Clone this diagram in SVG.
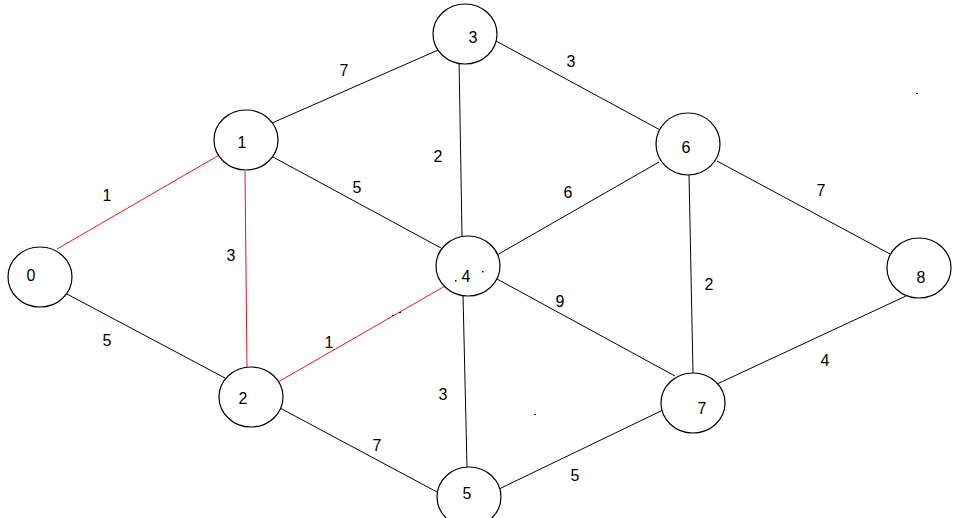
<svg xmlns="http://www.w3.org/2000/svg" width="972" height="518" viewBox="0 0 972 518">
<style>
.n ellipse{fill:#fff;stroke:#000;stroke-width:1.2}
text{font-family:"Liberation Sans","DejaVu Sans",sans-serif;font-size:16px;fill:#000;text-anchor:middle}
.e line{stroke:#000;stroke-width:1}
.e line.r{stroke:#e8141c}
</style>
<rect width="972" height="518" fill="#fff"/>
<g id="edges" class="e">
<line class="r" x1="57" y1="249" x2="221" y2="154"/>
<line x1="65" y1="293" x2="225" y2="378"/>
<line class="r" x1="245" y1="171" x2="247" y2="371"/>
<line x1="272" y1="123" x2="445" y2="47"/>
<line x1="273" y1="157" x2="441" y2="248"/>
<line class="r" x1="278" y1="382" x2="445" y2="286"/>
<line x1="280" y1="408" x2="437" y2="492"/>
<line x1="459" y1="58" x2="462" y2="236"/>
<line x1="496" y1="41" x2="662" y2="131"/>
<line x1="497" y1="255" x2="659" y2="162"/>
<line x1="463" y1="295" x2="467" y2="467"/>
<line x1="497" y1="279" x2="675" y2="376"/>
<line x1="499" y1="489" x2="663" y2="410"/>
<line x1="689" y1="175" x2="693" y2="373"/>
<line x1="717" y1="161" x2="890" y2="254"/>
<line x1="717" y1="384" x2="906" y2="296"/>
</g>
<g id="node0" class="n"><ellipse cx="40" cy="277" rx="32" ry="30"/><text x="31" y="281">0</text></g>
<g id="node1" class="n"><ellipse cx="246" cy="140" rx="32" ry="30"/><text x="242" y="148">1</text></g>
<g id="node2" class="n"><ellipse cx="251" cy="397" rx="32" ry="30"/><text x="243" y="404">2</text></g>
<g id="node3" class="n"><ellipse cx="465" cy="34" rx="32" ry="30"/><text x="473" y="43">3</text></g>
<g id="node4" class="n"><ellipse cx="468" cy="266" rx="32" ry="30"/><text x="466" y="282">4</text></g>
<g id="node5" class="n"><ellipse cx="469" cy="497" rx="32" ry="30"/><text x="467" y="499">5</text></g>
<g id="node6" class="n"><ellipse cx="688" cy="144" rx="32" ry="31"/><text x="686" y="153">6</text></g>
<g id="node7" class="n"><ellipse cx="693" cy="403" rx="32" ry="30"/><text x="702" y="414">7</text></g>
<g id="node8" class="n"><ellipse cx="919" cy="268" rx="32" ry="30"/><text x="921" y="283">8</text></g>
<g id="labels">
<text x="344" y="76">7</text>
<text x="571" y="67">3</text>
<text x="107" y="201">1</text>
<text x="438" y="162">2</text>
<text x="357" y="193">5</text>
<text x="568" y="198">6</text>
<text x="821" y="196">7</text>
<text x="231" y="261">3</text>
<text x="560" y="307">9</text>
<text x="709" y="290">2</text>
<text x="107" y="346">5</text>
<text x="329" y="348">1</text>
<text x="825" y="366">4</text>
<text x="443" y="400">3</text>
<text x="377" y="451">7</text>
<text x="575" y="481">5</text>
</g>
<g id="specks" fill="#000">
<rect x="916" y="93" width="2" height="1"/>
<rect x="534" y="414" width="2" height="1"/>
<rect x="455" y="280" width="1.5" height="1.5"/>
<rect x="482" y="271" width="1.5" height="1.5"/>
<rect x="392" y="315" width="2" height="1"/>
<rect x="399" y="312" width="2" height="1"/>
</g>
</svg>
